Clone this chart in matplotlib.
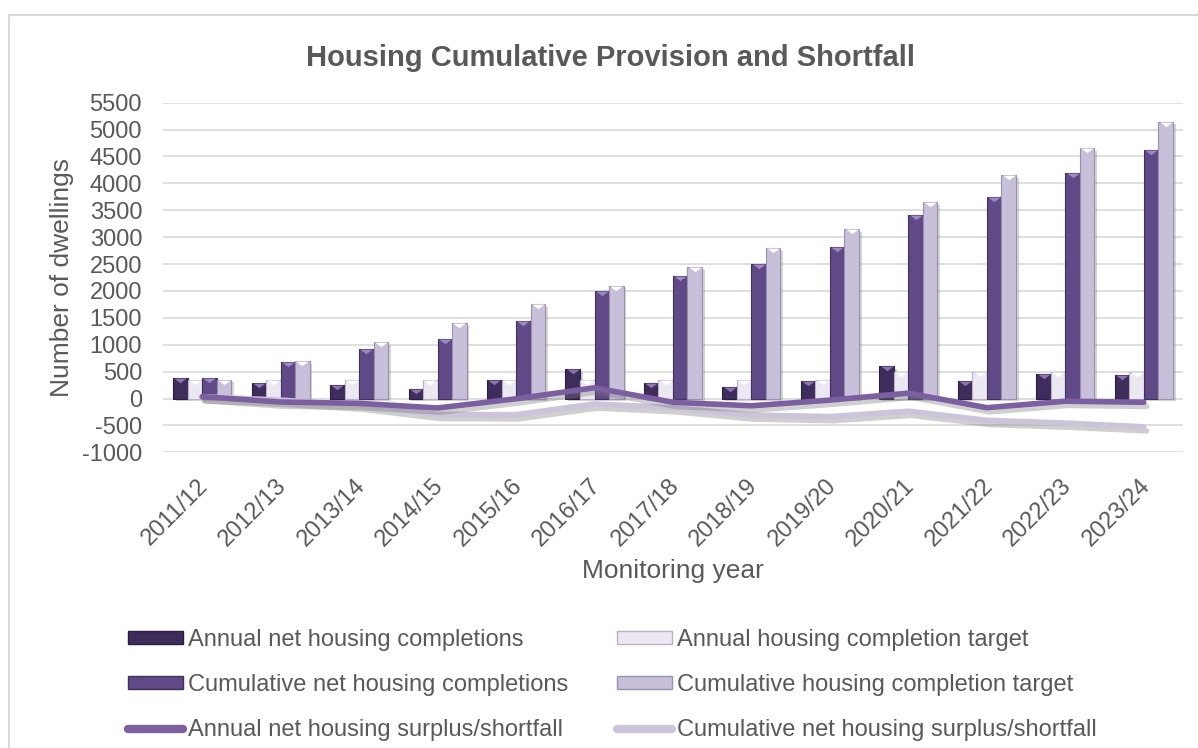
import matplotlib.pyplot as plt
import matplotlib.patheffects as pe
import matplotlib.transforms as mtransforms
from matplotlib.patches import Patch, Rectangle
from matplotlib.lines import Line2D
import numpy as np

plt.rcParams['font.family'] = ['Liberation Sans', 'DejaVu Sans']
plt.rcParams['axes.unicode_minus'] = False

years = ['2011/12', '2012/13', '2013/14', '2014/15', '2015/16', '2016/17', '2017/18',
         '2018/19', '2019/20', '2020/21', '2021/22', '2022/23', '2023/24']
annual_completions = [385, 285, 260, 175, 345, 550, 280, 215, 320, 600, 330, 450, 430]
annual_target = [350, 350, 350, 350, 350, 350, 350, 350, 350, 500, 500, 500, 500]
cumulative_completions = [385, 670, 930, 1105, 1450, 2000, 2280, 2495, 2815, 3415, 3745, 4195, 4625]
cumulative_target = [350, 700, 1050, 1400, 1750, 2100, 2450, 2800, 3150, 3650, 4150, 4650, 5150]
annual_surplus = [35, -65, -90, -175, -5, 200, -70, -135, -30, 100, -170, -50, -70]
cumulative_surplus = [35, -30, -120, -295, -300, -100, -170, -305, -335, -235, -405, -455, -525]

text_col = '#595959'
c_ann = '#3e2d5c'
c_cum = '#5f4a87'
c_ann_t = '#ece8f2'
c_cum_t = '#c8bfda'
c_line1 = '#7b5fa1'
c_line2 = '#cbc4db'

fig = plt.figure(figsize=(11.98, 7.48), dpi=100)
ax = fig.add_axes([0.136, 0.3953, 0.8515, 0.4674])

# outer chart border (only top and left edges are inside the picture)
fig.patches.append(Rectangle((9 / 1198, -0.1), 1.2, 1.1 - 15 / 748, transform=fig.transFigure,
                             fill=False, edgecolor='#d9d9d9', linewidth=1.5))

x = np.arange(len(years))
w = 0.185
bars = [
    (annual_completions, -1.5, c_ann, '#2a1d40', '#8c75b0'),
    (annual_target, -0.5, c_ann_t, '#b9b2c6', '#ffffff'),
    (cumulative_completions, 0.5, c_cum, '#3f305c', '#9d88c4'),
    (cumulative_target, 1.5, c_cum_t, '#9a90ad', '#ffffff'),
]
shadow = [pe.SimplePatchShadow(offset=(2, -2), shadow_rgbFace='#888888', alpha=0.35), pe.Normal()]
tri = [(-1, 0), (1, 0), (0, -0.75), (-1, 0)]
for vals, off, fc, ec, tc in bars:
    ax.bar(x + off * w, vals, width=w, color=fc, edgecolor=ec, linewidth=0.8,
           zorder=3, path_effects=shadow)
    ax.plot(x + off * w, vals, linestyle='none', marker=tri, markersize=9,
            markerfacecolor=tc, markeredgewidth=0, zorder=4)

line_shadow = [pe.SimpleLineShadow(offset=(2, -3), shadow_color='#777777', alpha=0.35), pe.Normal()]
ax.plot(x, cumulative_surplus, color=c_line2, linewidth=4, solid_capstyle='round',
        zorder=5, path_effects=line_shadow)
ax.plot(x, annual_surplus, color=c_line1, linewidth=4, solid_capstyle='round',
        zorder=6, path_effects=line_shadow)

ax.set_xlim(-0.5, len(years) - 0.5)
ax.set_ylim(-1000, 5500)
ax.set_yticks(np.arange(-1000, 5501, 500))
ax.grid(axis='y', color='#d9d9d9', linewidth=1.2, zorder=0)
ax.set_axisbelow(True)
for s in ax.spines.values():
    s.set_visible(False)
ax.tick_params(axis='both', length=0, labelsize=17, colors=text_col)
ax.tick_params(axis='y', pad=15)
ax.set_xticks(x)
ax.set_xticklabels(years, rotation=45, ha='right', rotation_mode='anchor')
ax.tick_params(axis='x', pad=16)
shift = mtransforms.ScaledTranslation(-5 / 100, 0, fig.dpi_scale_trans)
for lab in ax.get_xticklabels():
    lab.set_transform(lab.get_transform() + shift)

ax.set_ylabel('Number of dwellings', fontsize=19, color=text_col)
ax.yaxis.set_label_coords(-0.087, 0.5)
ax.set_xlabel('Monitoring year', fontsize=19, color=text_col, labelpad=6)
fig.text(0.5096, 0.922, 'Housing Cumulative Provision and Shortfall', ha='center', va='center',
         fontsize=21, fontweight='bold', color=text_col)

h1 = [Patch(facecolor=c_ann, edgecolor='#2a1d40'),
      Patch(facecolor=c_cum, edgecolor='#3f305c'),
      Line2D([0], [0], color=c_line1, linewidth=6, solid_capstyle='round')]
l1 = ['Annual net housing completions', 'Cumulative net housing completions',
      'Annual net housing surplus/shortfall']
h2 = [Patch(facecolor=c_ann_t, edgecolor='#b9b2c6'),
      Patch(facecolor=c_cum_t, edgecolor='#9a90ad'),
      Line2D([0], [0], color=c_line2, linewidth=6, solid_capstyle='round')]
l2 = ['Annual housing completion target', 'Cumulative housing completion target',
      'Cumulative net housing surplus/shortfall']
for hs, ls, xa in [(h1, l1, 128 / 1198), (h2, l2, 617 / 1198)]:
    leg = fig.legend(hs, ls, loc='upper left', bbox_to_anchor=(xa, 1 - 629 / 748),
                     frameon=False, fontsize=17, handlelength=2.33, handleheight=0.5,
                     handletextpad=0.2, labelspacing=0.98, borderpad=0, borderaxespad=0)
    for t in leg.get_texts():
        t.set_color(text_col)

fig.savefig('out.png', dpi=100)
